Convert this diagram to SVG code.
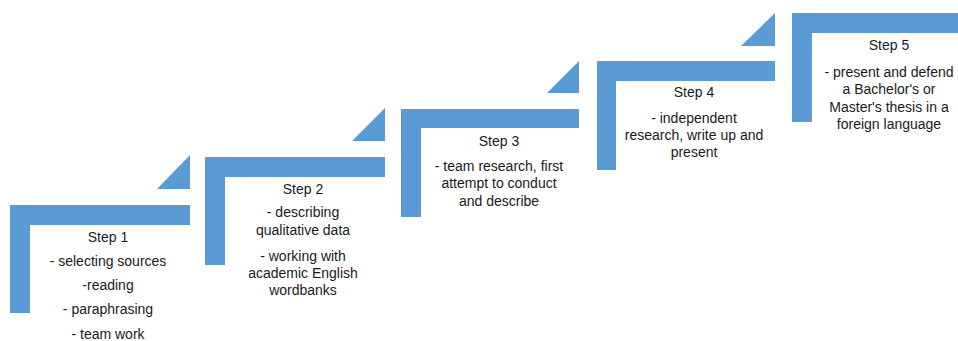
<svg xmlns="http://www.w3.org/2000/svg" width="958" height="341" viewBox="0 0 958 341">
<style>
.b{fill:#5B9BD5}
text{font-family:"Liberation Sans",Arial,sans-serif;font-size:14px;fill:#1a1a1a;text-anchor:middle}
</style>
<rect width="958" height="341" fill="#fff"/>
<g id="step1">
<path class="b" d="M10 205H190V225H30V313H10Z"/>
<path class="b" d="M157 189L190 155V189Z"/>
<text x="108" y="242">Step 1</text>
<text x="108" y="266">- selecting sources</text>
<text x="108" y="290">-reading</text>
<text x="108" y="314">- paraphrasing</text>
<text x="108" y="339">- team work</text>
</g>
<g id="step2">
<path class="b" d="M205 157H385V177H225V265H205Z"/>
<path class="b" d="M352 141L385 108V141Z"/>
<text x="303" y="194">Step 2</text>
<text x="303" y="217">- describing</text>
<text x="303" y="235">qualitative data</text>
<text x="303" y="261">- working with</text>
<text x="303" y="278">academic English</text>
<text x="303" y="295">wordbanks</text>
</g>
<g id="step3">
<path class="b" d="M401 109H579V128H421V217H401Z"/>
<path class="b" d="M547 93L579 61V93Z"/>
<text x="499" y="146">Step 3</text>
<text x="499" y="171">- team research, first</text>
<text x="499" y="188">attempt to conduct</text>
<text x="499" y="206">and describe</text>
</g>
<g id="step4">
<path class="b" d="M597 61H775V81H616V170H597Z"/>
<path class="b" d="M741 46L775 13V46Z"/>
<text x="694" y="97">Step 4</text>
<text x="694" y="123">- independent</text>
<text x="694" y="140">research, write up and</text>
<text x="694" y="157">present</text>
</g>
<g id="step5">
<path class="b" d="M792 13H958V33H812V122H792Z"/>
<text x="889" y="50">Step 5</text>
<text x="889" y="77">- present and defend</text>
<text x="889" y="94">a Bachelor's or</text>
<text x="889" y="112">Master's thesis in a</text>
<text x="889" y="129">foreign language</text>
</g>
<g id="connectors"></g>
</svg>
